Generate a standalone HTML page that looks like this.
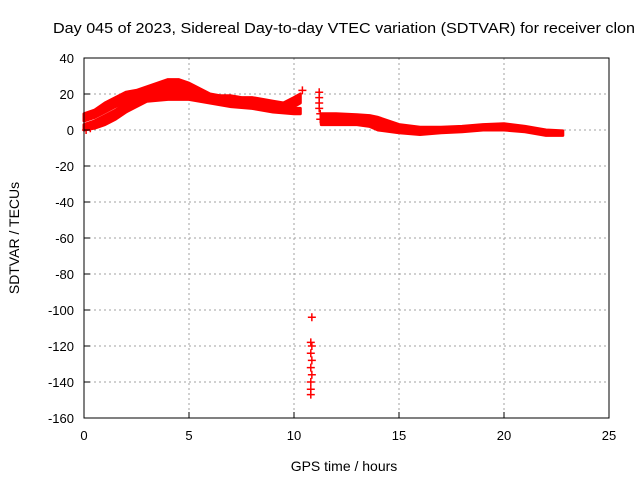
<!DOCTYPE html>
<html><head><meta charset="utf-8"><style>
body{margin:0;background:#fff;}
svg{display:block;font-family:"Liberation Sans",sans-serif;}
</style></head><body>
<svg id="chart" width="640" height="480">
<text x="53" y="33" font-size="15" textLength="582" lengthAdjust="spacingAndGlyphs">Day 045 of 2023, Sidereal Day-to-day VTEC variation (SDTVAR) for receiver clon</text>
<g id="grid"></g><g id="data"></g><g id="axes"></g>
<text x="344" y="471" font-size="14" text-anchor="middle">GPS time / hours</text>
<text x="0" y="0" font-size="14" text-anchor="middle" transform="translate(19,238) rotate(-90)">SDTVAR / TECUs</text>
</svg>
<script>
const xTicks=[0,5,10,15,20,25];
const yTicks=[40,20,0,-20,-40,-60,-80,-100,-120,-140,-160];
const seg1Hours=[0,0.5,1,1.5,2,2.5,3,3.5,4,4.5,5,5.5,6,6.5,7,7.5,8,8.5,9,9.5,10,10.3];
const seg1Upper=[9,11,15,18,21,22,24,26,28,28,26,23,20,19,19,18,18,17,16,15,18,20];
const seg1Lower=[5,7,10,13,16,18,20,21,21,21,20,18,16,15,15,14,14,13,12,11,13,15];
const seg1bHours=[0,0.5,1,1.5,2,2.5,3,4,5,6,7,8,9,10,10.3];
const seg1bUpper=[3,5,8,11,15,17,19,20,20,18,16,15,13,12,12];
const seg1bLower=[0,1,3,6,10,13,16,17,17,15,13,12,10,9,9];
const seg2Hours=[11.3,12,13,13.6,14,15,16,17,18,19,20,21,22,22.8];
const seg2Upper=[9,9,8.5,8,7,3,1.5,1.5,2,3,3.5,2,0,-0.5];
const seg2Lower=[3,3,3,2,0,-1.5,-2.5,-1.5,-1,0,0,-1,-3,-3];
const spikeHours=[11.2,11.2,11.2,11.2,11.25,11.25,10.4,0.1,0.3];
const spikeValues=[21,18,15,12,9,6,22,0,1];
const outlierHours=[10.85,10.8,10.85,10.8,10.85,10.8,10.85,10.8,10.8,10.8];
const outlierValues=[-104,-118,-120,-124,-128,-132,-136,-140,-144,-147];

const NS="http://www.w3.org/2000/svg";
const X0=84,X1=609,Y0=58,Y1=418;
const xs=t=>X0+(t-0)/25*(X1-X0);
const ys=v=>Y0+(40-v)/200*(Y1-Y0);
function mk(tag,attrs,parent){const e=document.createElementNS(NS,tag);for(const k in attrs)e.setAttribute(k,attrs[k]);parent.appendChild(e);return e;}
const grid=document.getElementById('grid'),data=document.getElementById('data'),axes=document.getElementById('axes');
xTicks.forEach(t=>{
  if(t>0&&t<25){const l=mk('line',{x1:xs(t),x2:xs(t),y1:Y0,y2:Y1,stroke:'#a0a0a0','stroke-dasharray':'2,3'},grid);
  
  }
  const tk=mk('line',{x1:xs(t),x2:xs(t),y1:Y1,y2:Y1-6,stroke:'#000'},axes);
  
  
  const tx=mk('text',{x:xs(t),y:Y1+22,'font-size':13,'text-anchor':'middle'},axes);tx.textContent=t;
  
  
});
yTicks.forEach(v=>{
  if(v<40&&v>-160){const l=mk('line',{x1:X0,x2:X1,y1:ys(v),y2:ys(v),stroke:'#a0a0a0','stroke-dasharray':'2,3'},grid);
  
  }
  const tk=mk('line',{x1:X0,x2:X0+6,y1:ys(v),y2:ys(v),stroke:'#000'},axes);
  
  
  const tx=mk('text',{x:X0-10,y:ys(v)+5,'font-size':13,'text-anchor':'end'},axes);tx.textContent=v;
  
  
});
const box=mk('rect',{x:X0,y:Y0,width:X1-X0,height:Y1-Y0,fill:'none',stroke:'#000'},axes);


function band(h,u,lo,name){
  let pts=h.map((t,i)=>xs(t)+','+ys(u[i]));
  for(let i=h.length-1;i>=0;i--)pts.push(xs(h[i])+','+ys(lo[i]));
  const p=mk('polygon',{points:pts.join(' '),fill:'#ff0000',stroke:'#ff0000','stroke-width':3,'stroke-linejoin':'round'},data);
  
  
}
band(seg1Hours,seg1Upper,seg1Lower,'sdtvar-band-morning-upper');
band(seg1bHours,seg1bUpper,seg1bLower,'sdtvar-band-morning-lower');
band(seg2Hours,seg2Upper,seg2Lower,'sdtvar-band-afternoon');
function plus(t,v,name){
  const x=xs(t),y=ys(v);
  const p=mk('path',{d:`M${x-4},${y}H${x+4}M${x},${y-4}V${y+4}`,stroke:'#ff0000','stroke-width':1.5},data);
  
  
}
spikeHours.forEach((t,i)=>plus(t,spikeValues[i],'sdtvar-point'));
outlierHours.forEach((t,i)=>plus(t,outlierValues[i],'sdtvar-outlier'));
</script>
</body></html>
